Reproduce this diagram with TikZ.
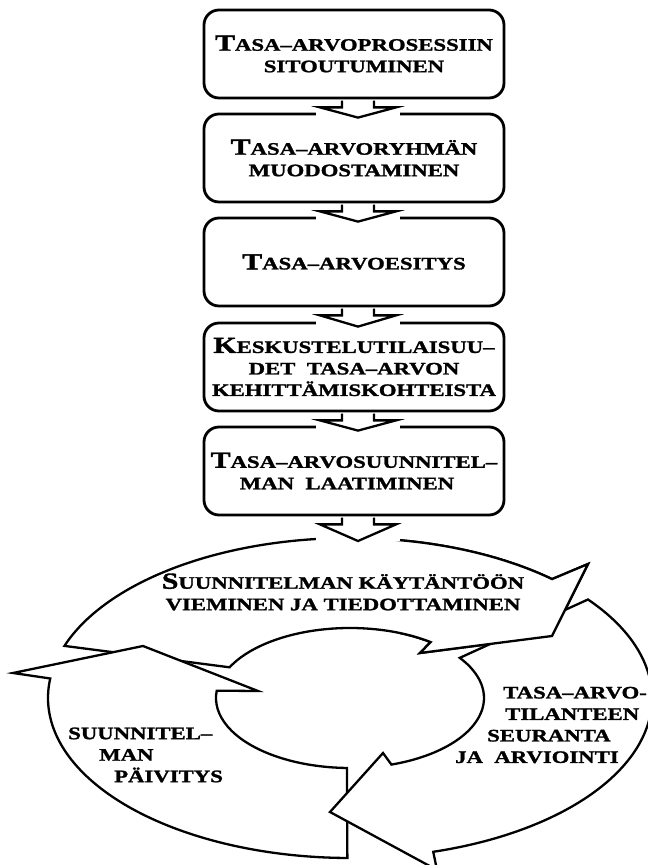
\documentclass[tikz,border=0pt]{standalone}
\usepackage{fontspec}
\newfontfamily\capsfont{Liberation Serif}[UprightFont={* Bold},FakeStretch=1.3,FakeBold=1.5]
\usetikzlibrary{calc}
\newcommand\Ini[1]{{\fontsize{23pt}{23pt}\selectfont #1}}
\newcommand\topringpath{({350+302*cos(161)},{167+160*sin(161)}) arc[start angle=161, end angle=48, x radius=302, y radius=160] -- (588,301) -- (552,229) -- (420,212) -- ({350+134*cos(53)},{167+70*sin(53)}) arc[start angle=53, end angle=154, x radius=134, y radius=70] -- cycle}
\newcommand\flowarrow[2]{%
  \fill[white] ($(#2 -| ax)+(-42,-5)$) rectangle ($(#2 -| ax)+(42,3)$);
  \path[flowarr] ($(#1 -| ax)+(-16,-1.3)$) -- ($(#1 -| ax)+(-16,-8)$) -- ($(#1 -| ax)+(-38,-8)$) -- ($(#2 -| ax)+(0,-5)$) -- ($(#1 -| ax)+(38,-8)$) -- ($(#1 -| ax)+(16,-8)$) -- ($(#1 -| ax)+(16,-1.3)$);
}
\begin{document}
\begin{tikzpicture}[x=1pt,y=1pt,
  txt/.style={font=\capsfont\fontsize{17.5pt}{21.5pt}\selectfont, text=black, inner sep=0pt},
  stepbox/.style={txt, draw, line width=2.8pt, rounded corners=15pt, minimum width=300pt, minimum height=88pt, align=center},
  ringarrow/.style={draw, fill=white, line width=2.3pt, line join=miter, miter limit=10},
  flowarr/.style={draw, fill=white, line width=2.3pt, line join=miter, miter limit=10}]
\useasboundingbox (0,0) rectangle (648,865);
\coordinate (ax) at (358,0);
% ring of three arrows
\path[ringarrow] \topringpath;
\path[ringarrow] ({350+302*cos(269.5)},{167+160*sin(269.5)}) arc[start angle=269.5, end angle=173, x radius=302, y radius=160] -- (13,192) -- (143,219) -- (258,174) -- ({350+134*cos(174)},{167+70*sin(174)}) arc[start angle=174, end angle=268.7, x radius=134, y radius=70] -- cycle;
\path[ringarrow] ({350+302*cos(38)},{167+160*sin(38)}) arc[start angle=38, end angle=-74, x radius=302, y radius=160] -- (437,-5) -- (330,53) -- (383,112) -- ({350+134*cos(-72)},{167+70*sin(-72)}) arc[start angle=-72, end angle=35, x radius=134, y radius=70] -- cycle;
\begin{scope}
  \clip (400,150) rectangle (648,400);
  \path[ringarrow] \topringpath;
\end{scope}
\coordinate (ringtop) at (358,329);
% ring texts
\node[txt, align=center] (r1) at (343,273) {\Ini{S}UUNNITELMAN KÄYTÄNTÖÖN\\VIEMINEN JA TIEDOTTAMINEN};
\node[txt, align=left, anchor=west] (r2) at (455,140) {\hspace*{48pt}TASA–ARVO-\\\hspace*{50pt}TILANTEEN\\\hspace*{32pt}SEURANTA\\JA~~ARVIOINTI};
\node[txt, align=left, anchor=west] (r3) at (68,110) {SUUNNITEL–\\\hspace*{31pt}MAN\\\hspace*{46pt}PÄIVITYS};
% boxes
\node[stepbox] (b1) at (354,811) {\Ini{T}ASA–ARVOPROSESSIIN\\SITOUTUMINEN};
\node[stepbox] (b2) at (354,707) {\Ini{T}ASA–ARVORYHMÄN\\MUODOSTAMINEN};
\node[stepbox] (b3) at (354,603) {\Ini{T}ASA–ARVOESITYS};
\node[stepbox] (b4) at (354,498) {\Ini{K}ESKUSTELUTILAISUU–\\DET~~TASA–ARVON\hspace*{24pt}\\KEHITTÄMISKOHTEISTA};
\node[stepbox] (b5) at (354,394) {\Ini{T}ASA–ARVOSUUNNITEL–\\MAN~~LAATIMINEN\hspace*{14pt}};
% flow arrows
\flowarrow{b1.south}{b2.north}
\flowarrow{b2.south}{b3.north}
\flowarrow{b3.south}{b4.north}
\flowarrow{b4.south}{b5.north}
\flowarrow{b5.south}{ringtop}
\end{tikzpicture}
\end{document}
